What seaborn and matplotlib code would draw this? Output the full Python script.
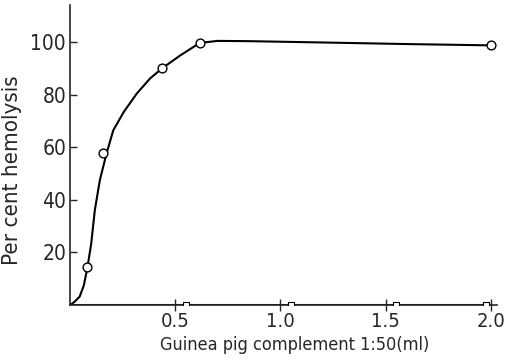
import matplotlib
matplotlib.use('Agg')
import matplotlib.pyplot as plt
import seaborn as sns

# measured points (open circles)
dose = [0.082, 0.154, 0.436, 0.616, 2.0]
hemolysis = [14.3, 58, 90, 99.7, 98.8]

# hand-drawn curve
curve_x = [0, 0.02, 0.045, 0.065, 0.082, 0.10, 0.117, 0.141, 0.173, 0.205, 0.255,
           0.317, 0.38, 0.436, 0.524, 0.616, 0.70, 0.85, 1.2, 1.6, 2.0]
curve_y = [0, 1.2, 3.2, 7.5, 14.3, 23.4, 36, 47.5, 57.7, 66.5, 73.5,
           80.5, 86.2, 90, 95, 99.7, 100.5, 100.4, 99.9, 99.3, 98.8]

# control series lying on the baseline
ctrl_x = [0, 0.55, 1.05, 1.55, 1.98]
ctrl_y = [0, 0, 0, 0, 0]

sns.set_style('ticks')
plt.rcParams['font.family'] = ['DejaVu Sans']
plt.rcParams['font.stretch'] = 'condensed'

fig = plt.figure(figsize=(5.05, 3.61), dpi=100)
ax = fig.add_axes([0.139, 0.155, 0.845, 0.83])

sns.lineplot(x=curve_x, y=curve_y, color='black', linewidth=1.5, ax=ax, sort=False)
sns.lineplot(x=ctrl_x, y=ctrl_y, color='black', linewidth=2.2, ax=ax, sort=False)
sns.scatterplot(x=ctrl_x[1:], y=ctrl_y[1:], marker='s', s=14, facecolor='white',
                edgecolor='black', linewidth=0.8, ax=ax, zorder=4)
sns.scatterplot(x=dose, y=hemolysis, marker='o', s=40, facecolor='white',
                edgecolor='black', linewidth=1.0, ax=ax, zorder=5)

ax.set_xlim(0, 2.03)
ax.set_ylim(0, 114)
ax.set_xticks([0.5, 1.0, 1.5, 2.0])
ax.set_xticklabels(['0.5', '1.0', '1.5', '2.0'])
ax.set_yticks([20, 40, 60, 80, 100])
ax.tick_params(axis='y', direction='in', length=5, labelsize=15, width=1, pad=3)
ax.tick_params(axis='x', direction='inout', length=8, labelsize=14.5, width=1, pad=1)
sns.despine(ax=ax)
ax.spines['left'].set_linewidth(1.2)
ax.spines['bottom'].set_linewidth(1.2)

ax.set_xlabel('Guinea pig complement 1:50(ml)', fontsize=13)
ax.set_ylabel('Per cent hemolysis', fontsize=16)
ax.xaxis.set_label_coords(0.525, -0.102)
ax.yaxis.set_label_coords(-0.112, 0.45)

fig.savefig('out.png', dpi=100)
